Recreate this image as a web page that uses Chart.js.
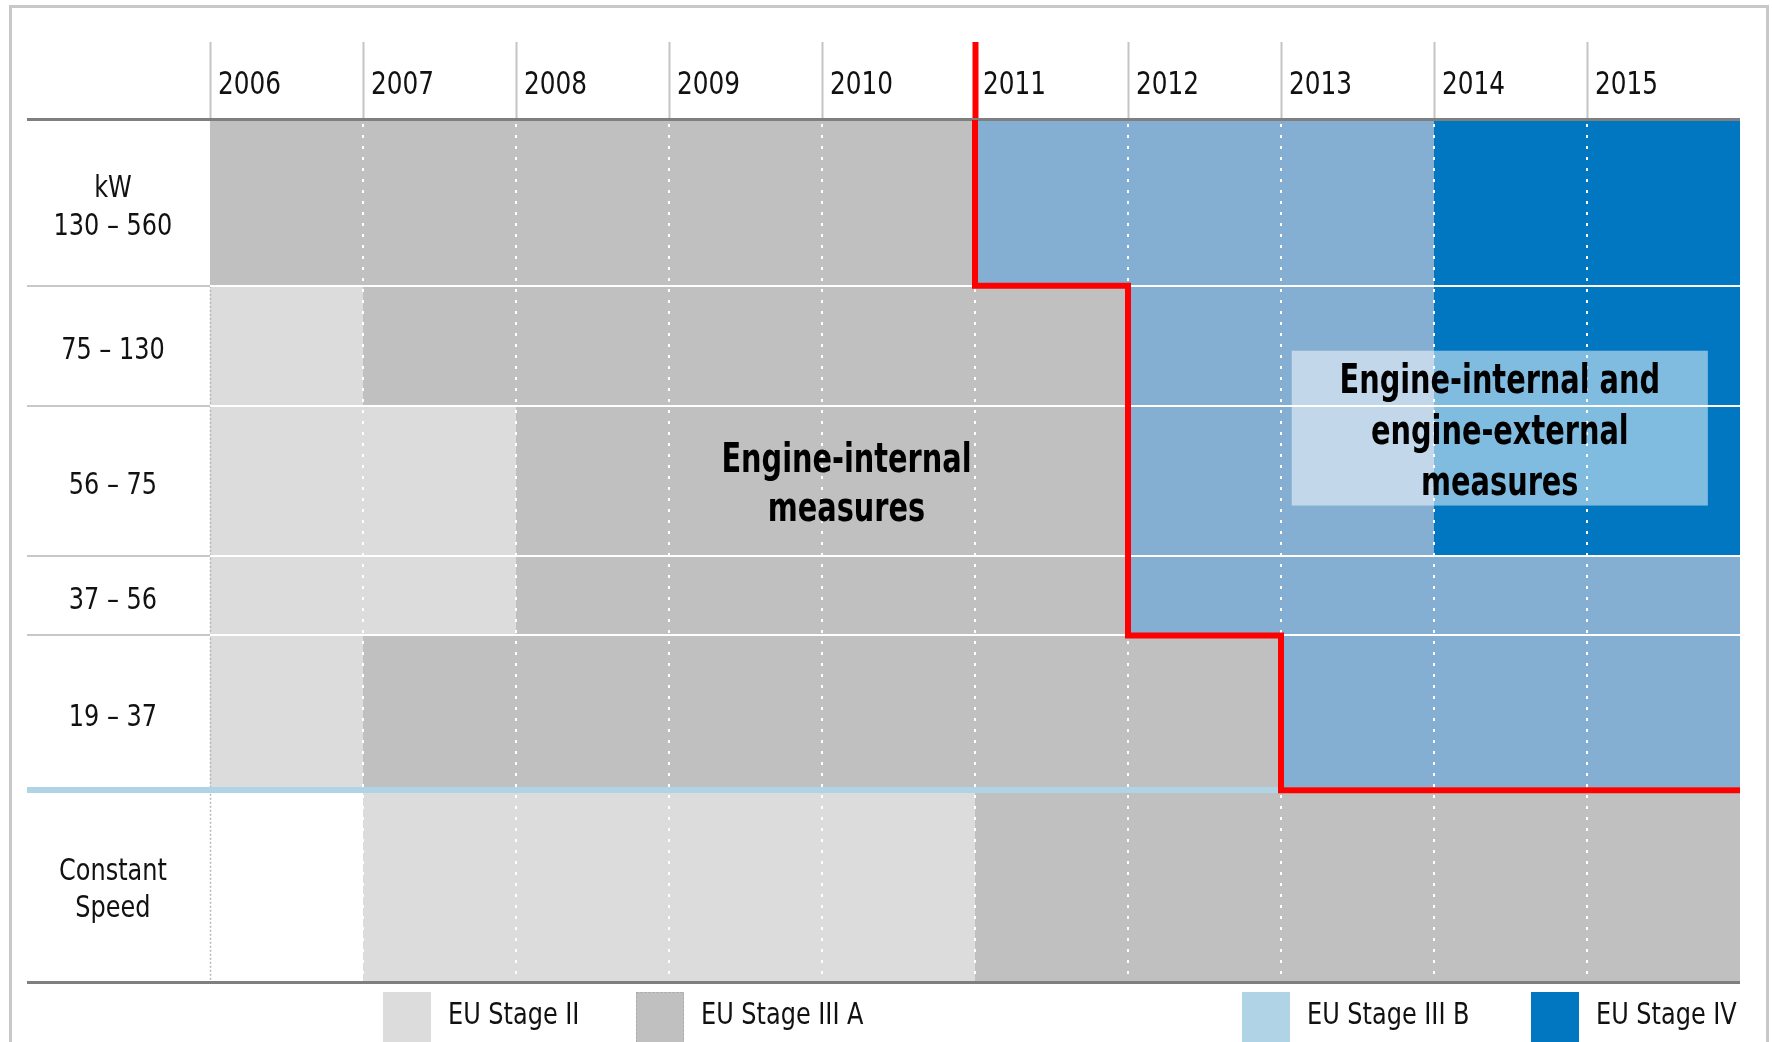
<!DOCTYPE html>
<html>
<head>
<meta charset="utf-8">
<title>EU emission stages for non-road engines</title>
<script src="https://cdn.jsdelivr.net/npm/chart.js@4.4.1/dist/chart.umd.min.js"></script>
<style>
  html, body { margin: 0; padding: 0; background: #fff; }
  canvas { display: block; }
</style>
</head>
<body>
<canvas id="myChart" width="1772" height="1042"></canvas>
<script>
// years in the header (each column runs to the next year)
var years = [2006, 2007, 2008, 2009, 2010, 2011, 2012, 2013, 2014, 2015]
var lastYearEnd = 2016

// power classes, top to bottom
var rowLabels = [['kW', '130 – 560'], '75 – 130', '56 – 75', '37 – 56', '19 – 37', ['Constant', 'Speed']]

// stage in force per year: 0 = II, 1 = III A, 2 = III B, 3 = IV, -1 = none
var stageNames = ['EU Stage II', 'EU Stage III A', 'EU Stage III B', 'EU Stage IV']
var stage130to560 = [1, 1, 1, 1, 1, 2, 2, 2, 3, 3]
var stage75to130 = [0, 1, 1, 1, 1, 1, 2, 2, 3, 3]
var stage56to75 = [0, 0, 1, 1, 1, 1, 2, 2, 3, 3]
var stage37to56 = [0, 0, 1, 1, 1, 1, 2, 2, 2, 2]
var stage19to37 = [0, 1, 1, 1, 1, 1, 1, 2, 2, 2]
var stageConstant = [-1, 0, 0, 0, 0, 1, 1, 1, 1, 1]

// notes written on the chart
var noteLeft = ['Engine-internal', 'measures']
var noteRight = ['Engine-internal and', 'engine-external', 'measures']

// ---- styles / layout ----
var FONT = "'DejaVu Sans Condensed', 'DejaVu Sans', sans-serif"
var cellColors = ['#dcdcdc', '#c0c0c0', '#84afd3', '#0077c0']
var legendColors = ['#dcdcdc', '#c0c0c0', '#b0d4e6', '#0077c0']
var rowHeights = [166, 120, 151, 79, 155, 191]   // relative heights of the rows
var legendX = [383, 636, 1242, 1531]
var noteLeftPos = {x: 2010.16, row: 2}
var noteRightBox = {x0: 2013.07, x1: 2015.79, y0: 231, y1: 386}

var stageRows = [stage130to560, stage75to130, stage56to75, stage37to56, stage19to37, stageConstant]

var rowTop = [], rowBottom = [], rowCenter = [], total = 0
rowHeights.forEach(function(h){
  rowTop.push(total)
  rowCenter.push(total + h / 2)
  total += h
  rowBottom.push(total)
})

// one filled band per run of equal stage in a row
var datasets = []
stageRows.forEach(function(row, r){
  var i = 0
  while (i < row.length) {
    var j = i
    while (j + 1 < row.length && row[j + 1] === row[i]) j++
    var end = j + 1 < years.length ? years[j + 1] : lastYearEnd
    if (row[i] >= 0) {
      datasets.push({
        type: 'line',
        data: [{x: years[i], y: rowTop[r]}, {x: end, y: rowTop[r]}],
        fill: {value: rowBottom[r]},
        backgroundColor: cellColors[row[i]],
        borderColor: 'rgba(0,0,0,0)',
        borderWidth: 0,
        pointRadius: 0,
        order: 5
      })
    }
    i = j + 1
  }
})

// red step line: where stage III B begins in each kW class
var redPoints = []
for (var r = 0; r < 5; r++) {
  var startIdx = stageRows[r].findIndex(function(s){ return s >= 2 })
  redPoints.push({x: years[startIdx], y: rowTop[r]})
  redPoints.push({x: years[startIdx], y: rowBottom[r]})
}
redPoints.push({x: lastYearEnd, y: rowBottom[4]})
var redIndex = datasets.length
datasets.push({
  type: 'line',
  data: redPoints,
  borderColor: '#ff0000',
  borderWidth: 6,
  borderCapStyle: 'square',
  borderJoinStyle: 'miter',
  pointRadius: 0,
  fill: false,
  tension: 0,
  order: 0
})

function drawLines(ctx, lines, cx, cy, gap) {
  var start = cy - gap * (lines.length - 1) / 2 + 5
  lines.forEach(function(t, k){ ctx.fillText(t, cx, start + k * gap) })
}

// the original uses a narrow font; squeeze all chart text horizontally
var squeeze = {
  id: 'squeeze',
  beforeDraw: function(chart) {
    var ctx = chart.ctx
    if (ctx._plainFillText) return
    var plain = ctx.fillText
    ctx._plainFillText = plain
    ctx.fillText = function(text, x, y) {
      var k = /bold/.test(this.font) ? 0.78 : 0.86
      this.save()
      this.translate(x, y)
      this.scale(k, 1)
      plain.call(this, text, 0, 0)
      this.restore()
    }
  }
}

var overlay = {
  id: 'overlay',
  beforeDatasetDraw: function(chart, args) {
    if (args.index !== redIndex) return
    var ctx = chart.ctx, xs = chart.scales.x, ys = chart.scales.y, a = chart.chartArea
    ctx.save()
    // dotted year lines
    ctx.lineWidth = 2
    ctx.strokeStyle = '#ffffff'
    ctx.setLineDash([3, 8])
    years.slice(1).forEach(function(yr){
      var px = Math.round(xs.getPixelForValue(yr))
      ctx.beginPath(); ctx.moveTo(px, a.top + 4); ctx.lineTo(px, a.bottom); ctx.stroke()
    })
    ctx.lineWidth = 1.5
    ctx.strokeStyle = '#b8b8b8'
    ctx.setLineDash([2, 2])
    var p0 = Math.round(xs.getPixelForValue(years[0])) + 0.5
    ctx.beginPath(); ctx.moveTo(p0, ys.getPixelForValue(rowTop[1])); ctx.lineTo(p0, a.bottom); ctx.stroke()
    ctx.setLineDash([])
    // row separators
    for (var k = 0; k < 4; k++) {
      var py = Math.round(ys.getPixelForValue(rowBottom[k]))
      ctx.fillStyle = '#ffffff'
      ctx.fillRect(a.left, py - 1, a.right - a.left, 2)
      ctx.fillStyle = '#c8c8c8'
      ctx.fillRect(27, py - 1, a.left - 27, 2)
    }
    var pb = Math.round(ys.getPixelForValue(rowBottom[4]))
    ctx.fillStyle = '#b0d4e6'
    ctx.fillRect(27, pb - 3, a.right - 27, 6)
    // header and bottom rules
    ctx.fillStyle = '#7f7f7f'
    ctx.fillRect(27, a.top - 2, a.right - 27, 3)
    ctx.fillRect(27, a.bottom, a.right - 27, 3)
    ctx.restore()
  },
  afterDatasetsDraw: function(chart) {
    var ctx = chart.ctx, xs = chart.scales.x, ys = chart.scales.y
    ctx.save()
    // notes
    ctx.fillStyle = '#000000'
    ctx.font = 'bold 41px ' + FONT
    ctx.textAlign = 'center'
    ctx.textBaseline = 'middle'
    drawLines(ctx, noteLeft, xs.getPixelForValue(noteLeftPos.x), ys.getPixelForValue(rowCenter[noteLeftPos.row]), 49)
    var bx0 = xs.getPixelForValue(noteRightBox.x0), bx1 = xs.getPixelForValue(noteRightBox.x1)
    var by0 = ys.getPixelForValue(noteRightBox.y0), by1 = ys.getPixelForValue(noteRightBox.y1)
    ctx.fillStyle = 'rgba(255,255,255,0.5)'
    ctx.fillRect(bx0, by0, bx1 - bx0, by1 - by0)
    ctx.fillStyle = '#000000'
    drawLines(ctx, noteRight, (bx0 + bx1) / 2, (by0 + by1) / 2, 51)
    // legend
    ctx.font = '31px ' + FONT
    ctx.textAlign = 'left'
    ctx.textBaseline = 'alphabetic'
    stageNames.forEach(function(name, i){
      ctx.fillStyle = legendColors[i]
      ctx.fillRect(legendX[i], 992, 48, 60)
      if (i === 1) {
        ctx.strokeStyle = '#a8a8a8'; ctx.lineWidth = 1; ctx.setLineDash([2, 2])
        ctx.strokeRect(legendX[i] + 0.5, 992.5, 47, 60)
        ctx.setLineDash([])
      }
      ctx.fillStyle = '#111111'
      ctx.fillText(name, legendX[i] + 65, 1024)
    })
    // outer frame
    ctx.strokeStyle = '#c8c8c8'
    ctx.lineWidth = 3
    ctx.beginPath()
    ctx.moveTo(10.5, 1050); ctx.lineTo(10.5, 6.5); ctx.lineTo(1767.5, 6.5); ctx.lineTo(1767.5, 1050)
    ctx.stroke()
    ctx.restore()
  }
}

var mychart = document.getElementById('myChart').getContext('2d')
var chart = new Chart(mychart, {
  type: 'line',
  data: {datasets: datasets},
  options: {
    responsive: false,
    animation: false,
    events: [],
    layout: {padding: {left: 24, right: 32, top: 42, bottom: 61}},
    plugins: {legend: {display: false}, tooltip: {enabled: false}},
    scales: {
      x: {
        type: 'linear',
        position: 'top',
        min: years[0],
        max: lastYearEnd,
        afterBuildTicks: function(s){ s.ticks = years.map(function(v){ return {value: v} }) },
        afterFit: function(s){ s.height = 78; s.paddingLeft = 0; s.paddingRight = 0 },
        border: {display: false},
        grid: {
          drawOnChartArea: false,
          drawTicks: true,
          tickLength: 78,
          tickColor: function(c){ return c.tick && c.tick.value === 2011 ? '#ff0000' : '#c4c4c4' },
          tickWidth: function(c){ return c.tick && c.tick.value === 2011 ? 6 : 2 }
        },
        ticks: {
          align: 'start',
          labelOffset: 8,
          padding: -63,
          maxRotation: 0,
          autoSkip: false,
          color: '#111111',
          font: {family: FONT, size: 32},
          callback: function(v){ return String(v) }
        }
      },
      y: {
        type: 'linear',
        reverse: true,
        min: 0,
        max: total,
        afterBuildTicks: function(s){ s.ticks = rowCenter.map(function(v){ return {value: v} }) },
        afterFit: function(s){ s.width = 186; s.paddingTop = 0; s.paddingBottom = 0 },
        border: {display: false},
        grid: {display: false, drawTicks: false},
        ticks: {
          crossAlign: 'center',
          padding: 28,
          labelOffset: 5,
          autoSkip: false,
          color: '#111111',
          font: {family: FONT, size: 31, lineHeight: 1.2},
          callback: function(v, i){ return rowLabels[i] }
        }
      }
    }
  },
  plugins: [squeeze, overlay]
})
</script>
</body>
</html>
